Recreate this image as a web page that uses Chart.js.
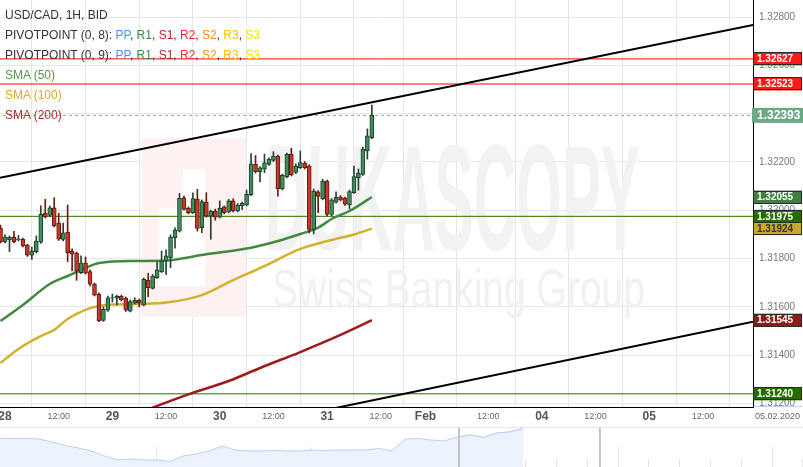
<!DOCTYPE html>
<html><head><meta charset="utf-8">
<script src="https://cdn.jsdelivr.net/npm/chart.js@4.4.1/dist/chart.umd.min.js"></script>
<style>
html,body{margin:0;padding:0;background:#fff;overflow:hidden;}
#wrap{position:relative;width:803px;height:467px;font-family:"Liberation Sans",Arial,sans-serif;}
#main{position:absolute;left:0;top:0;}
#nav{position:absolute;left:0;top:427px;}
#legend{position:absolute;left:5px;top:5px;font-size:12px;line-height:20px;color:#333;pointer-events:none;white-space:nowrap;}
</style></head>
<body><div id="wrap">
<canvas id="main" width="803" height="427"></canvas>
<canvas id="nav" width="803" height="40"></canvas>
<div id="legend">
<div>USD/CAD, 1H, BID</div>
<div>PIVOTPOINT (0, 8): <span style="color:#4a8ff0">PP</span>, <span style="color:#3a8a3a">R1</span>, <span style="color:#b02828">S1</span>, <span style="color:#ff2a2a">R2</span>, <span style="color:#ff8c1a">S2</span>, <span style="color:#ffc000">R3</span>, <span style="color:#f2e21a">S3</span></div>
<div>PIVOTPOINT (0, 9): <span style="color:#4a8ff0">PP</span>, <span style="color:#3a8a3a">R1</span>, <span style="color:#b02828">S1</span>, <span style="color:#ff2a2a">R2</span>, <span style="color:#ff8c1a">S2</span>, <span style="color:#ffc000">R3</span>, <span style="color:#f2e21a">S3</span></div>
<div style="color:#4e9a4e">SMA (50)</div>
<div style="color:#d2ad2a">SMA (100)</div>
<div style="color:#a83232">SMA (200)</div>
</div>
</div>
<script>
// ---------- DATA ----------
const candleHours = [-1,0,1,2,3,4,5,6,7,8,9,10,11,12,13,14,15,16,17,18,19,20,21,22,23,24,25,26,27,28,29,30,31,32,33,34,35,36,37,38,39,40,41,42,43,44,45,46,47,48,49,50,51,52,53,54,55,56,57,58,59,60,61,62,63,64,65,66,67,68,69,70,71,72,73,74,75,76,77,78,79,80,81,82];
const openP = [1.31925,1.31870,1.31878,1.31889,1.31877,1.31880,1.31856,1.31814,1.31829,1.31868,1.31988,1.31979,1.32010,1.31947,1.31879,1.31910,1.31831,1.31823,1.31742,1.31781,1.31746,1.31695,1.31652,1.31544,1.31586,1.31637,1.31636,1.31644,1.31636,1.31582,1.31616,1.31627,1.31607,1.31711,1.31677,1.31721,1.31746,1.31790,1.31804,1.31887,1.31914,1.32052,1.32008,1.31990,1.32046,1.31928,1.32034,1.31976,1.31997,1.31972,1.32014,1.31993,1.32039,1.31997,1.32018,1.32022,1.32065,1.32190,1.32160,1.32170,1.32190,1.32207,1.32225,1.32089,1.32139,1.32232,1.32157,1.32177,1.32196,1.32183,1.31921,1.32076,1.32047,1.32121,1.31983,1.32034,1.32055,1.32051,1.32022,1.32073,1.32135,1.32149,1.32246,1.32301];
const highP = [1.31939,1.31898,1.31894,1.31913,1.31896,1.31885,1.31860,1.31848,1.31894,1.32019,1.32046,1.32018,1.32052,1.31988,1.31947,1.32022,1.31840,1.31827,1.31811,1.31807,1.31753,1.31699,1.31658,1.31600,1.31645,1.31653,1.31649,1.31649,1.31641,1.31629,1.31638,1.31633,1.31720,1.31739,1.31734,1.31786,1.31831,1.31836,1.31898,1.31927,1.32070,1.32059,1.32014,1.32072,1.32087,1.32043,1.32073,1.32001,1.32005,1.32039,1.32018,1.32045,1.32047,1.32028,1.32034,1.32084,1.32235,1.32227,1.32181,1.32233,1.32217,1.32243,1.32229,1.32150,1.32237,1.32257,1.32192,1.32246,1.32202,1.32189,1.32088,1.32082,1.32128,1.32125,1.32049,1.32076,1.32061,1.32055,1.32084,1.32183,1.32171,1.32262,1.32337,1.32436];
const lowP = [1.31865,1.31865,1.31829,1.31865,1.31873,1.31848,1.31809,1.31797,1.31823,1.31863,1.31968,1.31974,1.31931,1.31875,1.31873,1.31787,1.31749,1.31710,1.31738,1.31736,1.31687,1.31645,1.31539,1.31540,1.31581,1.31620,1.31608,1.31624,1.31581,1.31579,1.31612,1.31600,1.31604,1.31642,1.31674,1.31718,1.31742,1.31735,1.31762,1.31843,1.31910,1.32001,1.31985,1.31987,1.31914,1.31907,1.31972,1.31880,1.31959,1.31968,1.31985,1.31989,1.31993,1.31993,1.32003,1.32018,1.32061,1.32154,1.32118,1.32156,1.32186,1.32202,1.32059,1.32084,1.32134,1.32142,1.32152,1.32173,1.32171,1.31906,1.31902,1.31990,1.32043,1.31976,1.31978,1.32030,1.32039,1.32020,1.32005,1.32070,1.32084,1.32144,1.32212,1.32297];
const closeP = [1.31870,1.31889,1.31888,1.31870,1.31882,1.31852,1.31814,1.31831,1.31873,1.31983,1.31974,1.32010,1.31935,1.31880,1.31907,1.31824,1.31818,1.31749,1.31782,1.31740,1.31694,1.31649,1.31542,1.31590,1.31638,1.31639,1.31644,1.31630,1.31586,1.31622,1.31627,1.31616,1.31714,1.31680,1.31728,1.31753,1.31790,1.31811,1.31889,1.31918,1.32050,1.32004,1.31990,1.32049,1.31925,1.32036,1.31976,1.31997,1.31972,1.32008,1.31990,1.32039,1.31997,1.32022,1.32029,1.32066,1.32192,1.32160,1.32176,1.32197,1.32211,1.32225,1.32090,1.32145,1.32232,1.32146,1.32183,1.32198,1.32177,1.31921,1.32080,1.32057,1.32121,1.31983,1.32043,1.32054,1.32043,1.32025,1.32078,1.32140,1.32153,1.32253,1.32308,1.32393];

const sma50Hours = [-1,4,10,14,18,21,29,36,44,55,61,66,70,73,77,82];
const sma50Vals  = [1.31542,1.31608,1.31695,1.31728,1.31761,1.31782,1.31790,1.31792,1.31815,1.31845,1.31873,1.31902,1.31928,1.31964,1.31997,1.32055];
const sma100Hours = [-1,3,8,11,14,19,21,29,36,44,51,58,66,73,78,82];
const sma100Vals  = [1.31368,1.31426,1.31479,1.31505,1.31550,1.31595,1.31604,1.31612,1.31618,1.31649,1.31711,1.31769,1.31840,1.31877,1.31900,1.31924];
const sma200Hours = [30,33,41,50,57,66,75,82];
const sma200Vals  = [1.31161,1.31183,1.31238,1.31293,1.31347,1.31413,1.31484,1.31545];

const upperTrendHours = [-1.12,167.2];
const upperTrendVals  = [1.32135,1.32767];
const lowerTrendHours = [-1.12,167.2];
const lowerTrendVals  = [1.30894,1.31539];

const levelValues = [1.32627,1.32523,1.31975,1.31240];
const levelColors = ['#ff0000','#ff0000','#2a6e00','#2a6e00'];
const ppValue = 1.31160;

const xTickHours  = [0,12,24,36,48,60,72,84,94,108,120,132,144,156];
const xTickLabels = ['28','12:00','29','12:00','30','12:00','31','12:00','Feb','12:00','04','12:00','05','12:00'];
const yTickValues = [1.312,1.314,1.316,1.318,1.320,1.322,1.324,1.326,1.328];
const dateLabel = '05.02.2020';

const navIndex  = [0,1,2,3,4,5,6,7,8,9,10,11,12,13,14,15,16,17,18,19,20,21,22,23,24,25,26,27,28,29,30,31,32,33,34,35,36,37,38,39,40];
const navValues = [1.32435,1.32425,1.32425,1.32400,1.32250,1.32075,1.31950,1.31800,1.31550,1.31350,1.31400,1.31350,1.31350,1.31275,1.31550,1.31650,1.31800,1.32050,1.31850,1.31800,1.31800,1.31825,1.31800,1.31800,1.31850,1.31825,1.31850,1.31850,1.31850,1.31925,1.31800,1.32400,1.32425,1.32350,1.32300,1.32500,1.32600,1.32475,1.32700,1.32750,1.32925];
const navWindow = [35.12,45.9];

// ---------- CHART ----------
const FONT = '"Liberation Sans", Arial, sans-serif';
const xMin = -1.12, xMax = 167.2, yMin = 1.311855, yMax = 1.328708;
const bull = closeP.map((c,i)=>c>=openP[i]);

const watermark = {
  id:'watermark',
  beforeDatasetsDraw(chart){
    const ctx = chart.ctx;
    ctx.save();
    ctx.fillStyle = '#fdf1f1';
    ctx.fillRect(141,138,105,179);
    ctx.fillStyle = '#ffffff';
    ctx.fillRect(159,208,46,78);
    ctx.fillRect(183,169,22,39);
    ctx.fillStyle = '#f2f2f2';
    ctx.font = 'bold 150px ' + FONT;
    let w = ctx.measureText('DUKASCOPY').width;
    ctx.translate(265,250); ctx.scale(375/w,1);
    ctx.fillText('DUKASCOPY',0,0);
    ctx.restore();
    ctx.save();
    ctx.fillStyle = '#f1f1f1';
    ctx.font = '54px ' + FONT;
    w = ctx.measureText('Swiss Banking Group').width;
    ctx.translate(272,307); ctx.scale(373/w,1);
    ctx.fillText('Swiss Banking Group',0,0);
    ctx.restore();
  }
};

const rightBoxes = [
  {value: levelValues[0], bg:'#ff1a1a', fg:'#fff'},
  {value: levelValues[1], bg:'#ff1a1a', fg:'#fff'},
  {value: sma50Vals[sma50Vals.length-1], bg:'#3f7f3f', fg:'#fff'},
  {value: sma100Vals[sma100Vals.length-1], bg:'#c9a82a', fg:'#333'},
  {value: levelValues[2], bg:'#246b00', fg:'#fff'},
  {value: sma200Vals[sma200Vals.length-1], bg:'#8e1a1a', fg:'#fff'},
  {value: levelValues[3], bg:'#246b00', fg:'#fff'},
  {value: ppValue, bg:'#3b7fd9', fg:'#fff'},
  {value: closeP[closeP.length-1], bg:'#6ca886', fg:'#fff', big:true}
];

const boxes = {
  id:'boxes',
  afterDraw(chart){
    const {ctx, chartArea:a, scales:{y}} = chart;
    ctx.save();
    ctx.beginPath(); ctx.rect(a.right-1, a.top, 60, a.bottom-a.top); ctx.clip();
    for (const b of rightBoxes){
      const py = y.getPixelForValue(b.value);
      const h = b.big ? 15 : 13;
      ctx.fillStyle = b.bg;
      if (b.big){ ctx.fillRect(a.right-1, py-h/2, 52, h); }
      else {
        ctx.fillRect(a.right, py-h/2, 49, h);
        ctx.strokeStyle = '#2a2a2a'; ctx.lineWidth = 1;
        ctx.strokeRect(a.right+0.5, Math.round(py-h/2)+0.5, 48, h-1);
      }
      ctx.fillStyle = b.fg;
      ctx.font = 'bold ' + (b.big?12:10) + 'px ' + FONT;
      ctx.textBaseline = 'middle'; ctx.textAlign = 'left';
      ctx.fillText(b.value.toFixed(5), a.right+4, py+0.5);
    }
    ctx.restore();
    ctx.save();
    ctx.fillStyle = '#666'; ctx.font = '9px ' + FONT;
    ctx.textBaseline = 'middle'; ctx.textAlign = 'left';
    ctx.fillText(dateLabel, a.right+2, a.bottom+10);
    ctx.restore();
  }
};

function lineSet(hours, vals, color, width, order, extra){
  return Object.assign({type:'line', data: hours.map((h,i)=>({x:h, y:vals[i]})),
    borderColor: color, borderWidth: width, pointRadius: 0, fill:false, order: order,
    cubicInterpolationMode:'monotone'}, extra||{});
}

const datasets = [
  {type:'bar', data: candleHours.map((h,i)=>({x:h, y:[openP[i], closeP[i]]})),
   backgroundColor: bull.map(b=>b?'#3e8d5b':'#c5392b'),
   borderColor: bull.map(b=>b?'#1f3f2a':'#5e1a10'),
   borderWidth:1, borderSkipped:false, barThickness:4, grouped:false, order:0},
  {type:'bar', data: candleHours.map((h,i)=>({x:h, y:[lowP[i], highP[i]]})),
   backgroundColor: bull.map(b=>b?'#25432f':'#6b1d12'),
   barThickness:1, grouped:false, order:1},
  lineSet(sma50Hours, sma50Vals, '#3f8a42', 2.5, 2),
  lineSet(sma100Hours, sma100Vals, '#d4b02c', 2.5, 3),
  lineSet(sma200Hours, sma200Vals, '#9e1b1b', 2.5, 4),
  lineSet(upperTrendHours, upperTrendVals, '#000', 2, 5),
  lineSet(lowerTrendHours, lowerTrendVals, '#000', 2, 5),
];
levelValues.forEach((v,i)=>datasets.push(lineSet([xMin-2,xMax+2],[v,v],levelColors[i],1,6)));
const lastClose = closeP[closeP.length-1];
datasets.push(lineSet([xMin-2,xMax+2],[lastClose,lastClose],'#7fae93',1,7,{borderDash:[3,3]}));

const isSmall = i => (xTickLabels[i]||'').indexOf(':')>=0;

new Chart(document.getElementById('main'), {
  type:'line',
  data:{datasets},
  options:{
    responsive:false, animation:false, devicePixelRatio:1,
    layout:{padding:0},
    plugins:{legend:{display:false}, tooltip:{enabled:false}},
    scales:{
      x:{type:'linear', min:xMin, max:xMax, offset:false,
        grid:{color:'#e6e6e6', drawTicks:false},
        border:{color:'#000', width:1},
        afterBuildTicks:s=>{ s.ticks = xTickHours.map(v=>({value:v})); },
        afterFit:s=>{ s.height = 20; s.paddingLeft = 0; s.paddingRight = 0; },
        ticks:{autoSkip:false, maxRotation:0, minRotation:0, padding:2.5,
          callback:(v,i)=>xTickLabels[i],
          font:c=> isSmall(c.index) ? {family:FONT, size:9, lineHeight:1.6} : {family:FONT, size:12, weight:'bold', lineHeight:1.2},
          color:c=> isSmall(c.index) ? '#666' : '#555'
        }
      },
      y:{type:'linear', position:'right', min:yMin, max:yMax,
        grid:{color:'#e6e6e6', drawTicks:false},
        border:{color:'#000', width:1},
        afterBuildTicks:s=>{ s.ticks = yTickValues.map(v=>({value:v})); },
        afterFit:s=>{ s.width = 50; s.paddingTop = 0; s.paddingBottom = 0; },
        ticks:{padding:6, color:'#777', font:{family:FONT, size:10}, callback:v=>Number(v).toFixed(5)}
      }
    }
  },
  plugins:[watermark, boxes]
});

// ---------- NAVIGATOR ----------
const navPlugin = {
  id:'navdeco',
  beforeDatasetsDraw(chart){
    const {ctx, scales:{x}} = chart;
    ctx.save();
    ctx.strokeStyle = '#e4e4e4'; ctx.lineWidth = 1;
    for (let k=0;k<26;k++){
      const px = Math.round(x.getPixelForValue(2.471 + 2.357*k))+0.5;
      ctx.beginPath(); ctx.moveTo(px, k%5===4 ? 20 : 32); ctx.lineTo(px, 40); ctx.stroke();
    }
    ctx.restore();
  },
  afterDraw(chart){
    const {ctx, scales:{x}} = chart;
    ctx.save();
    ctx.strokeStyle = '#e6e6e6'; ctx.lineWidth = 1;
    ctx.beginPath(); ctx.moveTo(0,0.5); ctx.lineTo(803,0.5); ctx.stroke();
    ctx.strokeStyle = '#c4c4c4'; ctx.lineWidth = 2;
    navWindow.forEach(v=>{ const px = x.getPixelForValue(v); ctx.beginPath(); ctx.moveTo(px,1); ctx.lineTo(px,40); ctx.stroke(); });
    ctx.restore();
  }
};
new Chart(document.getElementById('nav'), {
  type:'line',
  data:{datasets:[
    {data: navIndex.map((v,i)=>({x:v, y:navValues[i]})), fill:'start', backgroundColor:'#edf3fd', borderColor:'#b9d0f2', borderWidth:1, pointRadius:0, tension:0},
    {data: navIndex.slice(35).map((v,j)=>({x:v, y:navValues[35+j]})), fill:'start', backgroundColor:'#dbe7fb', borderColor:'#a9c6f0', borderWidth:1, pointRadius:0, tension:0}
  ]},
  options:{responsive:false, animation:false, devicePixelRatio:1, layout:{padding:0},
    plugins:{legend:{display:false}, tooltip:{enabled:false}},
    scales:{x:{type:'linear', display:false, min:0, max:61.44}, y:{display:false, min:1.31, max:1.33}}},
  plugins:[navPlugin]
});
</script>
</body></html>
